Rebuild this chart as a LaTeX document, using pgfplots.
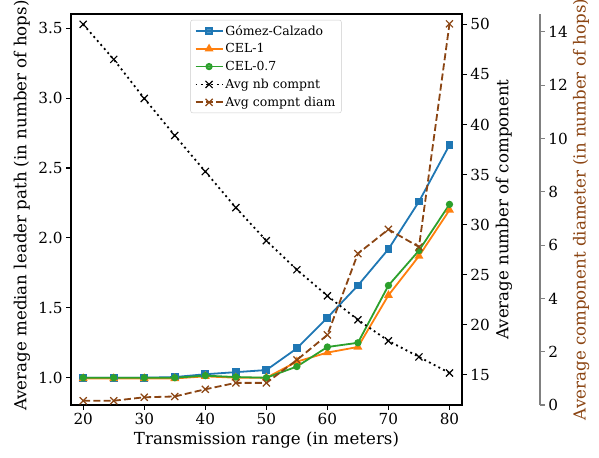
\documentclass[border=0pt]{standalone}
\usepackage{pgfplots}
\pgfplotsset{compat=1.18}
\usepackage{fontspec}
\setmainfont{DejaVu Serif}

\definecolor{mblue}{HTML}{1F77B4}
\definecolor{morange}{HTML}{FF7F0E}
\definecolor{mgreen}{HTML}{2CA02C}
\definecolor{mbrown}{HTML}{8B4513}

\pgfplotsset{
  base/.style={
    width=391bp, height=391bp, scale only axis,
    xmin=18, xmax=82.05,
    tick align=outside,
    major tick length=4.9bp,
    every tick/.style={black, line width=1.1bp},
    /pgf/number format/assume math mode=true,
    tick label style={font=\fontsize{15.3}{18}\selectfont},
    label style={font=\fontsize{16.7}{19}\selectfont},
    axis line style={line width=1.1bp},
  },
  mline/.style={line width=1.8bp, mark options={solid}},
  dotline/.style={line width=1.8bp, black, dash pattern=on 1.9bp off 3.4bp, mark=x, mark size=5bp,
    mark options={solid, line width=1.2bp}},
  brline/.style={line width=1.8bp, mbrown, dash pattern=on 7bp off 3.2bp, mark=x, mark size=5bp,
    mark options={solid, line width=1.2bp}},
}

\begin{document}
\begin{tikzpicture}
% left axis: median leader path
\begin{axis}[base, at={(0,0)},
  ymin=0.805, ymax=3.602,
  xtick={20,30,40,50,60,70,80},
  ytick={1.0,1.5,2.0,2.5,3.0,3.5},
  xtick pos=bottom, ytick pos=left,
  yticklabel style={/pgf/number format/.cd, fixed, fixed zerofill, precision=1},
  xlabel={Transmission range (in meters)},
  xlabel style={at={(axis description cs:0.5,-0.09)}, anchor=center},
  ylabel={Average median leader path (in number of hops)},
  ylabel style={at={(axis description cs:-0.1255,0.51)}, anchor=center},
]
\addplot[mline, mblue, mark=square*, mark size=3bp] coordinates {
  (20,1.0) (25,1.0) (30,1.0) (35,1.005) (40,1.025) (45,1.04) (50,1.055)
  (55,1.21) (60,1.43) (65,1.66) (70,1.92) (75,2.26) (80,2.665)
};
\addplot[mline, morange, mark=triangle*, mark size=3.4bp] coordinates {
  (20,0.995) (25,0.995) (30,0.995) (35,0.995) (40,1.01) (45,1.0) (50,1.0)
  (55,1.115) (60,1.18) (65,1.22) (70,1.59) (75,1.87) (80,2.2)
};
\addplot[mline, mgreen, mark=*, mark size=2.7bp] coordinates {
  (20,1.0) (25,1.0) (30,1.0) (35,1.0) (40,1.015) (45,1.005) (50,1.0)
  (55,1.08) (60,1.22) (65,1.25) (70,1.66) (75,1.91) (80,2.24)
};
\end{axis}

% right axis: number of components
\begin{axis}[base, at={(0,0)},
  ymin=12.0, ymax=51.03,
  hide x axis,
  axis y line*=right, y axis line style={-},
  ytick={15,20,25,30,35,40,45,50},
  ylabel={Average number of component},
  ylabel style={at={(axis description cs:1.1074,0.5)}, anchor=center},
]
\addplot[dotline] coordinates {
  (20,50.0) (25,46.5) (30,42.6) (35,38.9) (40,35.3) (45,31.7) (50,28.4)
  (55,25.5) (60,22.9) (65,20.5) (70,18.4) (75,16.8) (80,15.2)
};
\end{axis}

% data of the third axis, with the legend
\begin{axis}[base, at={(0,0)},
  ymin=0, ymax=14.67,
  hide axis,
  legend cell align=left,
  legend image code/.code={%
    \draw[mark repeat=2, mark phase=2] plot coordinates {(0bp,0bp) (13.5bp,0bp) (27bp,0bp)};},
  legend style={at={(0.4987,0.985)}, anchor=north,
    draw=black!20, rounded corners=2bp, fill=white, fill opacity=0.8, text opacity=1,
    font=\fontsize{12.5}{14}\selectfont, row sep=3bp, inner xsep=4bp, inner ysep=3bp},
]
\addlegendimage{mline, mblue, mark=square*, mark size=3bp}
\addlegendentry{Gómez-Calzado}
\addlegendimage{mline, morange, mark=triangle*, mark size=3.4bp}
\addlegendentry{CEL-1}
\addlegendimage{mline, mgreen, mark=*, mark size=2.7bp}
\addlegendentry{CEL-0.7}
\addlegendimage{dotline}
\addlegendentry{Avg nb compnt}
\addplot[brline] coordinates {
  (20,0.16) (25,0.16) (30,0.29) (35,0.32) (40,0.59) (45,0.83) (50,0.83)
  (55,1.69) (60,2.63) (65,5.68) (70,6.59) (75,5.93) (80,14.3)
};
\addlegendentry{Avg compnt diam}
\end{axis}

% offset spine of the third axis
\begin{axis}[base, at={(78bp,0)},
  ymin=0, ymax=14.67,
  hide x axis,
  axis y line*=right, y axis line style={-, gray},
  every tick/.style={gray, line width=1.1bp},
  ytick={0,2,4,6,8,10,12,14},
  ylabel={Average component diameter (in number of hops)},
  ylabel style={mbrown, at={(axis description cs:1.105,0.5)}, anchor=center},
]
\end{axis}

\pgfresetboundingbox
\useasboundingbox (-71bp,-53bp) rectangle (528bp,405bp);
\end{tikzpicture}
\end{document}
